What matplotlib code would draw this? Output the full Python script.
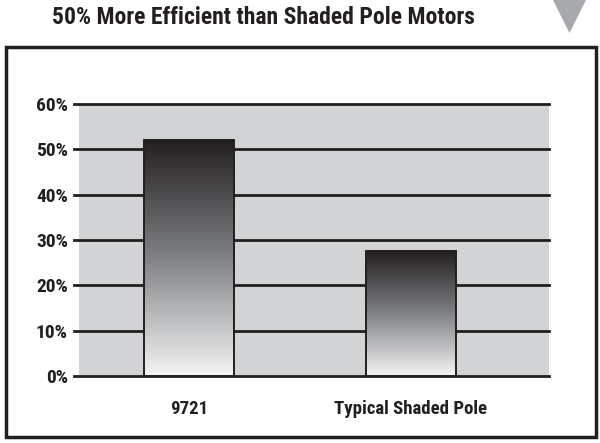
import numpy as np
import matplotlib
matplotlib.use('Agg')
import matplotlib.pyplot as plt
from matplotlib.colors import LinearSegmentedColormap
from matplotlib.patches import Rectangle, Polygon

# data
categories = ['9721', 'Typical Shaded Pole']
efficiency = [52, 27.5]
yticks = [0, 10, 20, 30, 40, 50, 60]
ytick_labels = ['0%', '10%', '20%', '30%', '40%', '50%', '60%']
title = '50% More Efficient than Shaded Pole Motors'

plt.rcParams['font.family'] = ['Roboto Condensed', 'DejaVu Sans']
plt.rcParams['font.weight'] = 'bold'

DARK = '#231f20'
PANEL = '#d1d3d4'

fig = plt.figure(figsize=(6, 4.43), dpi=100)
W, H = 600, 443

# outer frame
fig.patches.append(Rectangle((6 / W, 1 - 437 / H), 590 / W, 390 / H,
                             transform=fig.transFigure, fill=False,
                             edgecolor=DARK, linewidth=2.5))
# grey triangle marker next to the title
fig.patches.append(Polygon([(553 / W, 1.0), (586 / W, 1.0), (569.5 / W, 1 - 33 / H)],
                           closed=True, transform=fig.transFigure,
                           facecolor='#a7a9ac', edgecolor='none'))
fig.text(263 / W, 1 - 17 / H, title, ha='center', va='center',
         fontsize=17, fontweight='bold', color=DARK)

ax = fig.add_axes([79 / W, 1 - 376 / H, 470 / W, 272 / H])
ax.set_facecolor(PANEL)
for s in ax.spines.values():
    s.set_visible(False)

x = np.arange(len(categories))
width = 0.405

# horizontal lines, sticking out a bit on the left
for t in yticks:
    ax.axhline(t, xmin=-0.011, xmax=1, color=DARK, linewidth=2.0,
               clip_on=False, zorder=1)

cmap = LinearSegmentedColormap.from_list('bar', [DARK, '#808285', '#f4f4f4'])
grad = np.linspace(0, 1, 256).reshape(-1, 1)
bars = ax.bar(x, efficiency, width=width, facecolor='none',
              edgecolor=DARK, linewidth=1.4, zorder=3)
for b in bars:
    x0, y0 = b.get_x(), b.get_y()
    w, h = b.get_width(), b.get_height()
    im = ax.imshow(grad, cmap=cmap, aspect='auto', zorder=2,
                   extent=[x0, x0 + w, y0, y0 + h], origin='upper')
    im.set_clip_path(b)
ax.set_xlim(-0.496, 1.622)
ax.set_ylim(0, 60)

ax.set_yticks(yticks)
ax.set_yticklabels(ytick_labels, fontsize=14, fontweight='bold', color=DARK)
ax.set_xticks(x)
ax.set_xticklabels(categories, fontsize=13.5, fontweight='bold', color=DARK)
ax.tick_params(axis='y', length=0, pad=8)
ax.tick_params(axis='x', length=0, pad=17)

fig.savefig('out.png', dpi=100)
